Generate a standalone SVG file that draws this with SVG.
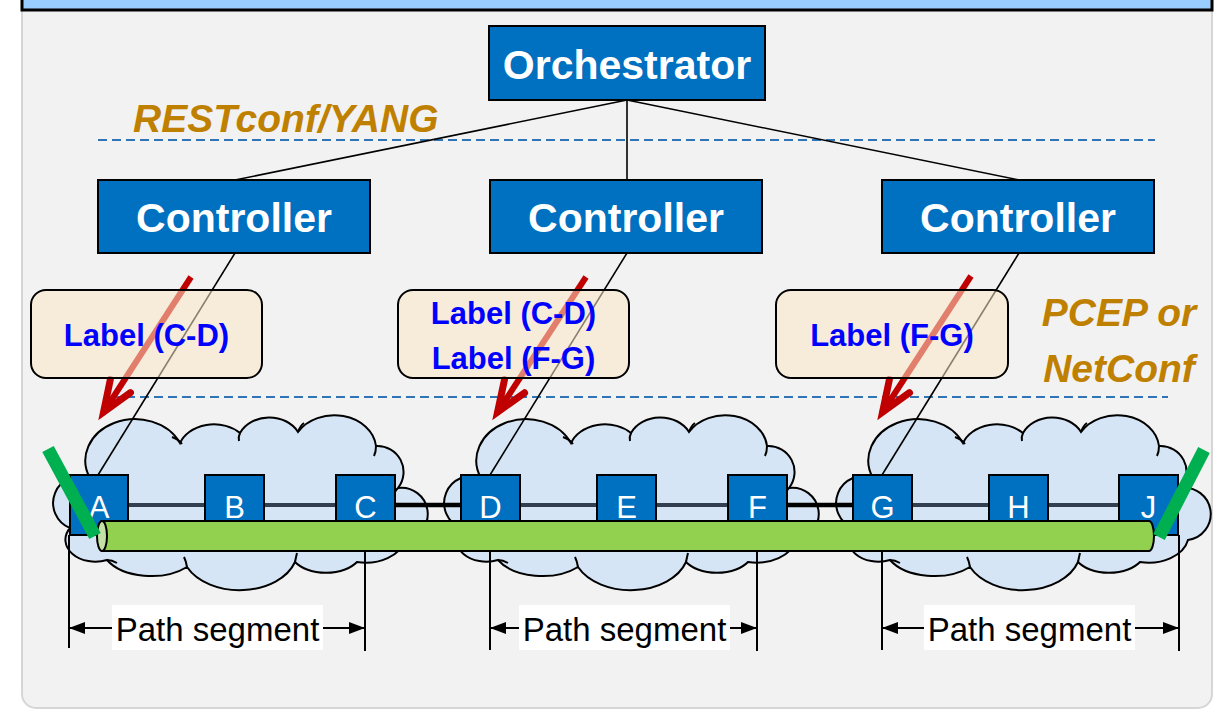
<svg xmlns="http://www.w3.org/2000/svg" width="1216" height="711" viewBox="0 0 1216 711">
<style>
.panel{fill:#F2F2F2;stroke:#D6D6D6;stroke-width:2}
.banner{fill:#99CCFF;stroke:#000;stroke-width:3}
.dash{stroke:#2E75B6;stroke-width:2;stroke-dasharray:9 5;fill:none}
.proto{font-family:"Liberation Sans",Arial,sans-serif;font-weight:bold;font-style:italic;font-size:39px;fill:#BF8000}
.box{fill:#0070C0;stroke:#000;stroke-width:2}
.boxtxt{font-family:"Liberation Sans",Arial,sans-serif;font-weight:bold;font-size:41px;fill:#fff;text-anchor:middle}
.node{fill:#0070C0;stroke:#000;stroke-width:2}
.nodetxt{font-family:"Liberation Sans",Arial,sans-serif;font-size:31px;fill:#fff;text-anchor:middle}
.cloud{fill:#D6E5F5;stroke:#000;stroke-width:2}
.inner{fill:none;stroke:#000;stroke-width:2}
.conn{stroke:#000;stroke-width:1.6;fill:none}
.link{stroke:#333F50;stroke-width:4}
.xlink{stroke:#000;stroke-width:4.5}
.dim{stroke:#000;stroke-width:2;fill:none}
.segbg{fill:#fff}
.segtxt{font-family:"Liberation Sans",Arial,sans-serif;font-size:33px;fill:#000;text-anchor:middle}
.red{stroke:#C00000;stroke-width:6;fill:none;marker-end:url(#ah)}
.lbl{fill:#FCE6C4;fill-opacity:0.55;stroke:#000;stroke-width:2}
.lbltxt{font-family:"Liberation Sans",Arial,sans-serif;font-weight:bold;font-size:31px;fill:#0000FF;text-anchor:middle}
.gbar{stroke:#00B050;stroke-width:13}
</style>
<defs>
<marker id="ah" markerUnits="userSpaceOnUse" viewBox="-40 -20 44 40" refX="0" refY="0" markerWidth="44" markerHeight="40" orient="auto" overflow="visible">
<path d="M-32,-12 L-1,0 L-32,12" fill="none" stroke="#C00000" stroke-width="7" stroke-linecap="round" stroke-linejoin="miter"/>
</marker>
<marker id="dimA" markerUnits="userSpaceOnUse" viewBox="0 -6 16 12" refX="16" refY="0" markerWidth="16" markerHeight="12" orient="auto-start-reverse">
<path d="M0,-6 L16,0 L0,6 Z" fill="#000"/>
</marker>
<g id="cloudShape">
<path class="cloud" d="M90,478 A48,40 0 0 1 180,443 A36,28 0 0 1 240,433 A32,26 0 0 1 298,432 A42,34 0 0 1 376,446 A26,26 0 0 1 398,488 A24,24 0 0 1 405,540 A40,28 0 0 1 357,562 A36,22 0 0 1 295,562 A58,40 0 0 1 187,567 A50,30 0 0 1 107,560 A30,22 0 0 1 70,528 A26,26 0 0 1 90,478 Z"/>
<path class="inner" d="M172,437 Q178,439 182,444"/>
<path class="inner" d="M240,433 Q238,437 239,441"/>
<path class="inner" d="M298,432 Q300,426 304,423"/>
<path class="inner" d="M376,446 Q376,452 374,456"/>
<path class="inner" d="M398,488 Q395,492 392,495"/>
<path class="inner" d="M107,560 Q112,560 117,563"/>
<path class="inner" d="M187,567 Q186,561 184,557"/>
<path class="inner" d="M295,562 Q296,557 297,553"/>
<path class="inner" d="M90,478 Q93,482 96,485"/>
</g>
</defs>

<rect class="panel" x="22" y="-20" width="1190" height="728" rx="14"/>
<rect class="banner" x="22" y="-40" width="1190" height="50"/>

<g id="dashed-lines">
<line class="dash" x1="98" y1="140" x2="1155" y2="140"/>
<line class="dash" x1="112" y1="397" x2="1168" y2="397"/>
</g>
<text class="proto" x="133" y="132">RESTconf/YANG</text>
<text class="proto" x="1119" y="326" text-anchor="middle">PCEP or</text>
<text class="proto" x="1119" y="382" text-anchor="middle">NetConf</text>

<g id="clouds">
<use href="#cloudShape"/>
<use href="#cloudShape" transform="translate(391,0)"/>
<use href="#cloudShape" transform="translate(783,0)"/>
</g>

<g id="links">
<line class="link" x1="99" y1="505" x2="1148" y2="505"/>
<line class="xlink" x1="395" y1="505" x2="461" y2="505"/>
<line class="xlink" x1="787" y1="505" x2="853" y2="505"/>
</g>

<g id="node-A"><rect class="node" x="70" y="475" width="58" height="60"/><text class="nodetxt" x="99" y="518">A</text></g>
<g id="node-B"><rect class="node" x="205" y="475" width="59" height="60"/><text class="nodetxt" x="234.5" y="518">B</text></g>
<g id="node-C"><rect class="node" x="336" y="475" width="59" height="60"/><text class="nodetxt" x="365.5" y="518">C</text></g>
<g id="node-D"><rect class="node" x="461" y="475" width="59" height="60"/><text class="nodetxt" x="490.5" y="518">D</text></g>
<g id="node-E"><rect class="node" x="597" y="475" width="59" height="60"/><text class="nodetxt" x="626.5" y="518">E</text></g>
<g id="node-F"><rect class="node" x="728" y="475" width="59" height="60"/><text class="nodetxt" x="757.5" y="518">F</text></g>
<g id="node-G"><rect class="node" x="853" y="475" width="59" height="60"/><text class="nodetxt" x="882.5" y="518">G</text></g>
<g id="node-H"><rect class="node" x="989" y="475" width="59" height="60"/><text class="nodetxt" x="1018.5" y="518">H</text></g>
<g id="node-J"><rect class="node" x="1119" y="475" width="59" height="60"/><text class="nodetxt" x="1148.5" y="518">J</text></g>

<g id="dimension-lines">
<line class="dim" x1="69" y1="535" x2="69" y2="648"/>
<line class="dim" x1="365" y1="536" x2="365" y2="651"/>
<line class="dim" x1="490" y1="536" x2="490" y2="650"/>
<line class="dim" x1="757" y1="536" x2="757" y2="651"/>
<line class="dim" x1="882" y1="536" x2="882" y2="650"/>
<line class="dim" x1="1179" y1="535" x2="1179" y2="651"/>
</g>

<g id="lsp-tube">
<path d="M102,521 H1149 A5,15 0 0 1 1149,551 H102 Z" fill="#92D050" stroke="#000" stroke-width="2"/>
<ellipse cx="102" cy="536" rx="5" ry="15" fill="#C5E0A5" stroke="#000" stroke-width="2"/>
</g>
<g id="endpoints">
<line class="gbar" x1="48" y1="449" x2="95" y2="536"/>
<line class="gbar" x1="1204" y1="450" x2="1159" y2="537"/>
</g>

<g id="connectors">
<line class="conn" x1="627" y1="100" x2="235" y2="180"/>
<line class="conn" x1="627" y1="100" x2="627" y2="180"/>
<line class="conn" x1="627" y1="100" x2="1019" y2="180"/>
<line class="conn" x1="235" y1="253" x2="98" y2="475"/>
<line class="conn" x1="627" y1="253" x2="490" y2="475"/>
<line class="conn" x1="1019" y1="253" x2="882" y2="475"/>
<line class="red" x1="191" y1="277" x2="103" y2="413"/>
<line class="red" x1="586" y1="277" x2="497" y2="413"/>
<line class="red" x1="971" y1="276" x2="882" y2="413"/>
<g id="seg1">
<line class="dim" x1="69" y1="628" x2="365" y2="628" marker-start="url(#dimA)" marker-end="url(#dimA)"/>
<rect class="segbg" x="112" y="605" width="211" height="45"/>
<text class="segtxt" x="217.5" y="641">Path segment</text>
</g>
<g id="seg2">
<line class="dim" x1="490" y1="628" x2="757" y2="628" marker-start="url(#dimA)" marker-end="url(#dimA)"/>
<rect class="segbg" x="519" y="605" width="211" height="45"/>
<text class="segtxt" x="624.5" y="641">Path segment</text>
</g>
<g id="seg3">
<line class="dim" x1="882" y1="628" x2="1179" y2="628" marker-start="url(#dimA)" marker-end="url(#dimA)"/>
<rect class="segbg" x="924" y="605" width="211" height="45"/>
<text class="segtxt" x="1029.5" y="641">Path segment</text>
</g>
</g>

<g id="label-1"><rect class="lbl" x="31" y="290" width="231" height="88" rx="15"/><text class="lbltxt" x="146.5" y="346">Label (C-D)</text></g>
<g id="label-2"><rect class="lbl" x="398" y="290" width="231" height="88" rx="15"/><text class="lbltxt" x="513.5" y="324">Label (C-D)</text><text class="lbltxt" x="513.5" y="369">Label (F-G)</text></g>
<g id="label-3"><rect class="lbl" x="776" y="290" width="232" height="88" rx="15"/><text class="lbltxt" x="892" y="346">Label (F-G)</text></g>

<g id="orchestrator"><rect class="box" x="489" y="26" width="276" height="74"/><text class="boxtxt" x="627" y="79">Orchestrator</text></g>
<g id="controller-1"><rect class="box" x="98" y="180" width="272" height="73"/><text class="boxtxt" x="234" y="232">Controller</text></g>
<g id="controller-2"><rect class="box" x="490" y="180" width="272" height="73"/><text class="boxtxt" x="626" y="232">Controller</text></g>
<g id="controller-3"><rect class="box" x="882" y="180" width="272" height="73"/><text class="boxtxt" x="1018" y="232">Controller</text></g>
</svg>
